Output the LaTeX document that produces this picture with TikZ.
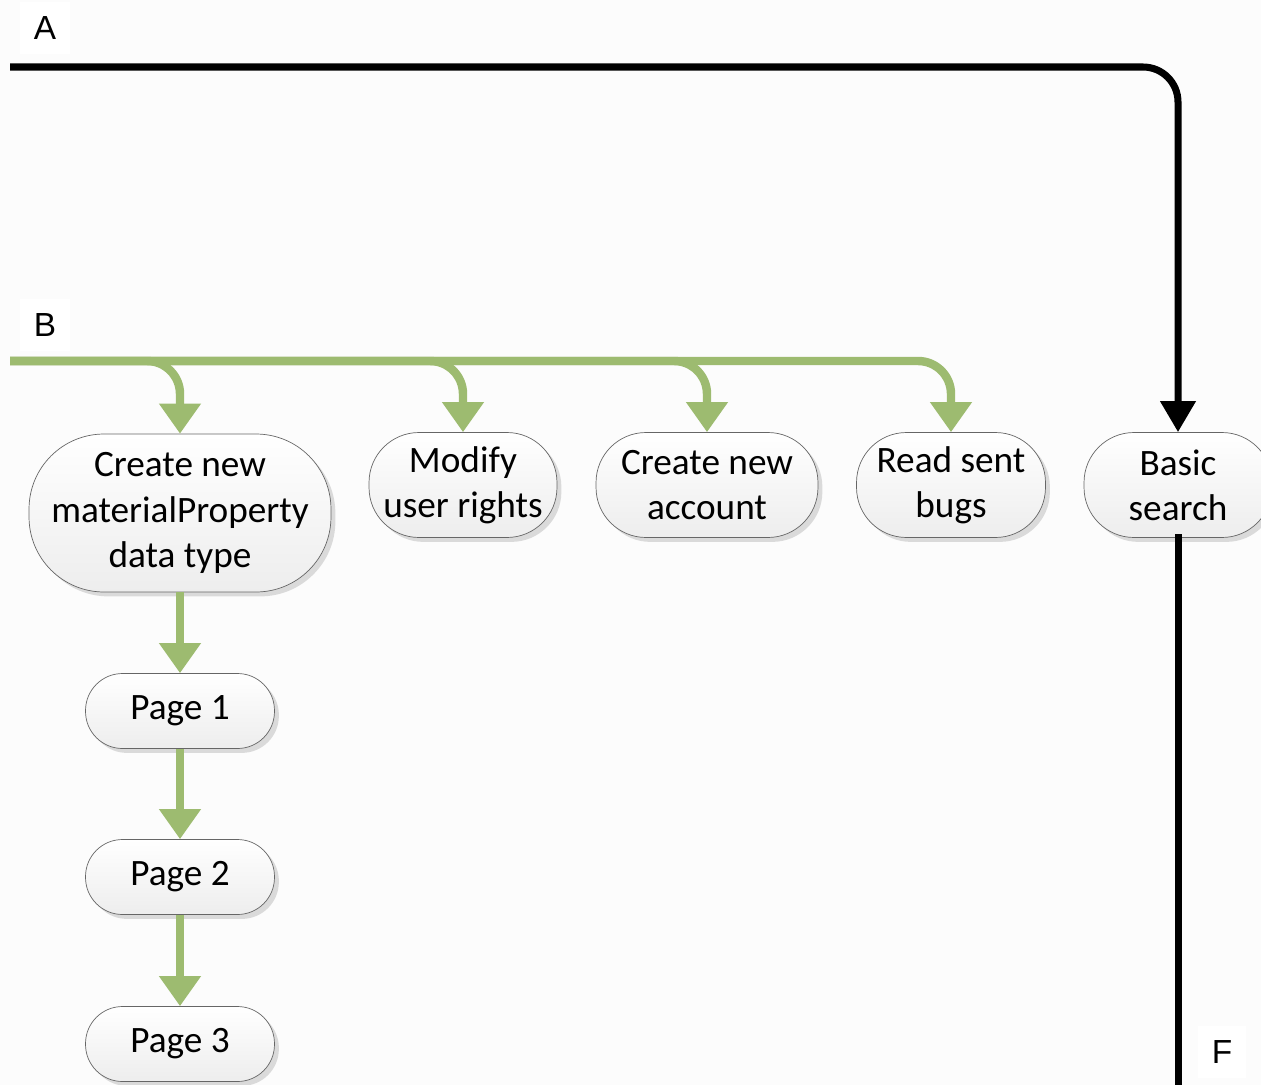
\documentclass[tikz,border=0pt]{standalone}
\usepackage{fontspec}
\setmainfont{Carlito}
\newfontfamily\lblfont{Liberation Sans}
\usetikzlibrary{shapes}
\usetikzlibrary{shadows}
\usetikzlibrary{arrows.meta}
\definecolor{flowgreen}{RGB}{157,187,112}
\definecolor{pagebg}{RGB}{252,252,252}
\tikzset{
    termnode/.style = {rectangle, rounded corners=#1, draw=gray!80!black, thin, align=center, inner sep=0pt,
                       top color=white, bottom color=gray!14, font=\fontsize{21.2}{25.8}\selectfont, text=black,
                       drop shadow={shadow xshift=2.5pt, shadow yshift=-2.5pt, fill=gray!60, opacity=0.45}},
    lbl/.style = {fill=white, inner sep=8pt, font=\lblfont\fontsize{19}{22}\selectfont, text=black},
    edgegreen/.style = {-{Triangle[length=0.6cm,width=0.8cm]}, line width=4.8pt, flowgreen, rounded corners=0.66cm},
    edgeblack/.style = {-{Triangle[length=0.62cm,width=0.68cm]}, line width=4pt, black, rounded corners=0.7cm},
    edgeblackn/.style = {-, line width=4pt, black}
}
\begin{document}
\begin{tikzpicture}[x=0.02cm,y=-0.02cm]
\useasboundingbox (0,0) rectangle (1261,1085);
\clip (0,0) rectangle (1261,1085);
\fill[pagebg] (0,0) rectangle (1261,1085);

% swimlane labels
\node[lbl] at (  45,   28) (la) {A};
\node[lbl] at (  45,  325) (lb) {B};
\node[lbl] at (1222, 1052) (lf) {F};

\coordinate (A) at (10, 67);
\coordinate (B) at (10, 361);
\coordinate (F) at (1178, 1100);

% steps
\node[termnode=1.5cm, minimum width=6.04cm, minimum height=3.16cm] at (180, 513) (cn) {Create new\\materialProperty\\data type};
\node[termnode=1.0cm, minimum width=3.76cm, minimum height=2.1cm] at (463, 485) (mu) {Modify\\user rights};
\node[termnode=1.0cm, minimum width=4.44cm, minimum height=2.1cm] at (707, 485) (ca) {Create new\\account};
\node[termnode=1.0cm, minimum width=3.78cm, minimum height=2.1cm] at (951, 485) (rb) {Read sent\\bugs};
\node[termnode=1.0cm, minimum width=3.76cm, minimum height=2.1cm] at (1178, 485) (bs) {Basic\\search};
\node[termnode=0.74cm, minimum width=3.78cm, minimum height=1.5cm] at (180, 711) (p1) {Page 1};
\node[termnode=0.74cm, minimum width=3.78cm, minimum height=1.5cm] at (180, 877) (p2) {Page 2};
\node[termnode=0.74cm, minimum width=3.78cm, minimum height=1.5cm] at (180, 1044) (p3) {Page 3};

% lane B
\draw[edgegreen] (B) -| (cn.north);
\draw[edgegreen] (B) -| (mu.north);
\draw[edgegreen] (B) -| (ca.north);
\draw[edgegreen] (B) -| (rb.north);
\draw[edgegreen] (cn.south) -- (p1.north);
\draw[edgegreen] (p1.south) -- (p2.north);
\draw[edgegreen] (p2.south) -- (p3.north);

% lane A
\draw[edgeblack] (A) -| (bs.north);
\draw[edgeblackn] ([yshift=2pt]bs.south) -- (F);

\end{tikzpicture}
\end{document}
